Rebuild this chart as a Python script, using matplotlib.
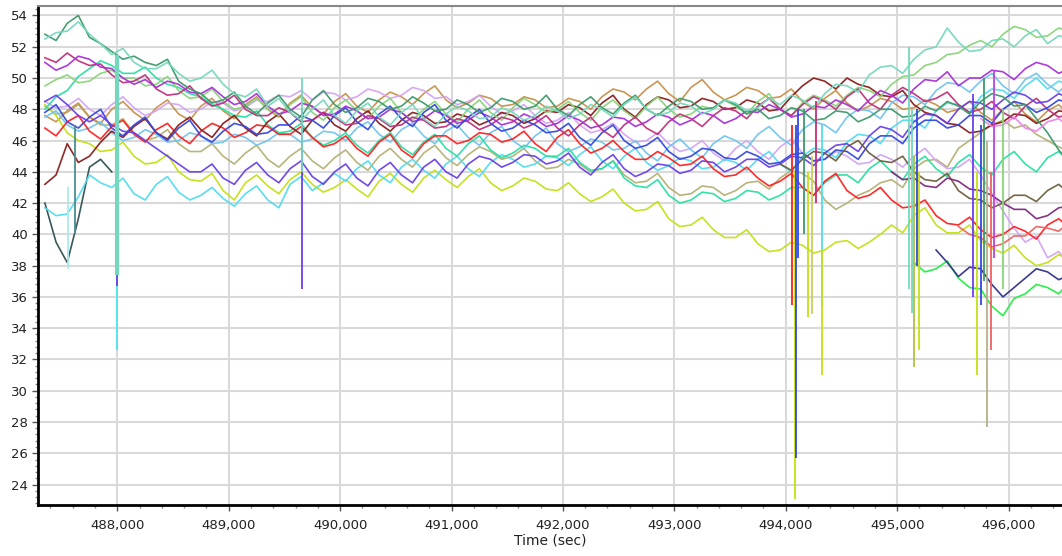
import numpy as np
import matplotlib
matplotlib.use('Agg')
import matplotlib.pyplot as plt
from matplotlib.ticker import MultipleLocator, FuncFormatter

# sample times (sec), one every 100 s
times = np.arange(487350, 496600, 100)

seagreen = [52.8, 52.4, 53.5, 54.0, 52.6, 52.2, 51.7, 51.2, 51.4, 51.0,
            50.8, 51.2, 49.8, 49.3, 49.0, 48.4, 48.6, 49.1, 48.2, 47.7,
            48.4, 48.9, 48.0, 47.5, 48.6, 49.2, 48.3, 47.8, 48.1, 48.7,
            48.5, 48.0, 48.2, 48.8, 48.4, 47.9, 48.0, 48.6, 48.3, 47.8,
            48.1, 48.7, 48.5, 48.0, 48.2, 48.9, 48.0, 47.6, 48.3, 48.8,
            48.1, 47.7, 48.4, 48.9, 48.0, 47.6, 48.2, 48.7, 48.5, 48.0,
            48.1, 48.6, 48.3, 47.7, 48.0, 47.4, 47.6, 48.1, 47.9, 47.3,
            47.4, 47.9, 47.8, 47.2, 47.5, 48.0, 48.0, 47.5, 47.6, 48.2,
            47.9, 48.5, 48.2, 47.7, 48.5, 49.0, 48.8, 48.2, 48.3, 47.4,
            46.5, 45.4, 44.6]
aquamarine = [52.5, 52.9, 53.0, 53.6, 52.8, 52.2, 51.5, 51.9, 51.0, 50.6,
              50.6, 51.0, 50.3, 49.8, 50.0, 50.5, 49.6, 49.0, 48.8, 49.3,
              48.2, 48.7, 47.8, 47.3, 48.0, 48.6, 47.6, 47.1, 47.9, 48.4,
              47.5, 47.0, 47.8, 48.3, 47.4, 46.9, 47.7, 48.2, 47.9, 47.4,
              47.5, 48.1, 47.8, 47.3, 47.6, 48.2, 47.9, 47.4, 47.7, 48.3,
              48.0, 47.5, 48.3, 48.8, 48.0, 47.6, 47.8, 48.4, 48.2, 47.7,
              48.0, 48.6, 48.4, 47.9, 48.1, 48.7, 48.3, 48.9, 48.6, 48.1,
              49.0, 49.6, 49.5, 49.1, 50.2, 50.7, 50.8, 50.3, 51.2, 51.8,
              52.0, 53.2, 52.3, 51.7, 51.8, 52.4, 52.5, 52.0, 52.7, 53.1,
              52.2, 52.7, 52.6]
lightgreen = [49.5, 49.9, 50.2, 49.7, 49.8, 50.3, 50.5, 50.0, 50.0, 49.5,
              49.6, 50.1, 49.2, 48.7, 48.8, 49.3, 48.5, 48.0, 48.2, 48.7,
              48.0, 47.6, 48.3, 48.8, 47.8, 47.3, 48.1, 48.6, 47.9, 47.4,
              48.2, 48.7, 47.8, 47.3, 48.0, 48.5, 47.7, 47.2, 48.0, 48.6,
              47.8, 47.3, 48.1, 48.7, 48.3, 47.8, 48.0, 48.5, 47.8, 47.3,
              48.1, 48.6, 47.9, 47.4, 48.2, 48.8, 48.0, 47.5, 47.7, 48.2,
              48.0, 48.6, 48.2, 47.7, 48.5, 49.0, 48.0, 47.6, 48.4, 48.9,
              48.6, 48.2, 48.9, 49.4, 49.2, 48.8, 49.6, 50.1, 50.2, 50.8,
              51.0, 51.5, 51.6, 52.1, 52.4, 52.0, 52.8, 53.3, 53.1, 52.6,
              52.7, 53.2, 53.0]
orchid = [51.0, 50.5, 50.8, 51.4, 51.2, 50.7, 50.6, 50.0, 49.6, 49.9,
          49.4, 49.8, 49.6, 49.1, 49.0, 49.4, 48.8, 48.3, 48.5, 49.0,
          48.2, 47.7, 47.9, 48.4, 48.2, 47.6, 47.7, 48.2, 47.9, 47.4,
          47.5, 48.0, 47.8, 47.2, 47.4, 47.9, 47.6, 47.1, 47.3, 47.8,
          47.5, 47.0, 47.2, 47.7, 47.4, 46.9, 47.1, 47.6, 47.3, 46.8,
          47.0, 47.5, 47.4, 46.9, 47.2, 47.7, 47.5, 47.0, 47.3, 47.8,
          47.6, 47.1, 47.4, 47.9, 47.8, 48.3, 48.0, 47.5, 47.7, 48.2,
          48.1, 48.6, 48.3, 47.9, 48.6, 49.2, 48.9, 48.4, 49.3, 49.9,
          49.8, 50.4, 49.5, 50.0, 50.0, 50.5, 50.4, 49.9, 50.6, 51.0,
          50.8, 50.3, 50.6]
violetred = [51.3, 51.0, 51.6, 51.1, 50.8, 50.9, 50.2, 49.7, 49.8, 50.2,
             49.3, 48.9, 49.0, 49.5, 48.7, 48.2, 48.4, 48.9, 48.0, 47.6,
             47.6, 48.1, 47.8, 47.2, 47.3, 47.8, 47.5, 47.0, 47.1, 47.6,
             47.4, 46.9, 47.0, 47.5, 47.3, 46.8, 46.9, 47.4, 47.2, 46.7,
             47.0, 47.5, 47.3, 46.8, 47.1, 47.6, 46.8, 46.3, 47.0, 47.5,
             46.7, 46.2, 47.0, 47.5, 46.8, 46.4, 47.2, 47.7, 47.4, 46.9,
             47.6, 48.1, 47.9, 47.4, 48.2, 48.7, 48.0, 47.6, 48.3, 48.8,
             48.5, 48.0, 48.8, 49.3, 48.4, 48.0, 48.9, 49.4, 49.0, 48.5,
             48.7, 49.1, 48.3, 47.8, 48.0, 48.5, 47.8, 47.4, 48.2, 48.7,
             48.0, 47.5, 47.7]
blueviolet = [48.5, 48.9, 48.3, 47.6, 47.2, 47.6, 47.0, 46.6, 46.5, 46.0,
              45.5, 45.0, 44.5, 44.0, 44.0, 44.5, 43.6, 43.2, 44.1, 44.6,
              43.8, 43.3, 44.2, 44.7, 43.7, 43.2, 44.0, 44.5, 43.6, 43.1,
              44.1, 44.6, 43.8, 43.3, 44.3, 44.8, 44.0, 43.6, 44.5, 45.0,
              44.8, 44.3, 44.6, 45.1, 45.0, 44.5, 44.7, 45.2, 44.3, 43.8,
              44.6, 45.1, 44.2, 43.7, 44.0, 44.5, 44.4, 43.9, 44.1, 44.7,
              44.6, 44.0, 44.3, 44.8, 44.8, 44.3, 44.5, 45.0, 44.9, 44.4,
              45.2, 45.7, 45.8, 45.3, 46.3, 46.9, 46.7, 46.2, 47.2, 47.7,
              47.6, 47.1, 48.0, 48.5, 48.4, 48.0, 48.6, 49.1, 48.9, 48.4,
              48.5, 49.0, 48.7]
royalblue = [47.8, 48.3, 47.2, 46.8, 47.5, 48.0, 46.8, 46.3, 47.0, 47.5,
             46.5, 46.0, 46.8, 47.3, 46.3, 45.9, 46.6, 47.1, 46.9, 46.4,
             46.5, 47.0, 47.0, 47.6, 47.3, 46.8, 47.6, 48.1, 47.2, 46.7,
             47.7, 48.2, 47.4, 46.9, 47.8, 48.3, 47.3, 46.8, 47.5, 48.0,
             47.1, 46.6, 46.8, 47.3, 47.0, 46.5, 46.6, 47.1, 46.2, 45.7,
             46.5, 47.0, 46.0, 45.5, 45.7, 46.2, 45.3, 44.8, 45.0, 45.5,
             45.4, 44.9, 44.8, 45.3, 45.0, 44.5, 44.6, 45.1, 45.2, 44.7,
             44.8, 45.4, 45.3, 44.8, 45.8, 46.3, 46.3, 45.8, 46.8, 47.3,
             47.3, 46.8, 47.0, 47.6, 47.6, 47.1, 48.0, 48.5, 48.3, 47.8,
             48.1, 48.6, 48.4]
red = [46.8, 46.3, 47.2, 47.6, 46.6, 46.1, 46.9, 47.3, 46.4, 45.9,
       46.7, 47.1, 46.3, 45.8, 46.6, 47.1, 46.8, 46.2, 46.5, 47.0,
       46.9, 46.4, 46.4, 46.9, 46.2, 45.6, 45.8, 46.3, 45.5, 45.0,
       45.9, 46.4, 45.4, 44.9, 45.8, 46.3, 46.3, 45.8, 46.0, 46.5,
       46.4, 45.9, 46.1, 46.6, 45.8, 45.3, 46.2, 46.7, 45.8, 45.2,
       45.5, 46.0, 45.3, 44.8, 44.8, 45.3, 44.9, 44.4, 44.5, 45.0,
       44.2, 43.7, 43.8, 44.3, 43.6, 43.1, 43.4, 43.9, 43.0, 42.5,
       43.4, 43.9, 42.8, 42.3, 42.5, 43.0, 42.2, 41.7, 41.8, 42.2,
       41.2, 40.7, 40.6, 41.1, 40.3, 39.8, 40.0, 40.5, 40.2, 39.7,
       40.6, 41.0, 40.4]
maroon = [43.2, 43.8, 45.8, 44.6, 45.0, 45.9, 46.6, 46.2, 46.9, 47.4,
          46.5, 46.1, 47.0, 47.5, 46.7, 46.2, 47.1, 47.6, 46.8, 46.3,
          47.2, 47.7, 46.9, 46.4, 47.3, 47.8, 47.0, 46.6, 47.4, 47.9,
          47.1, 46.6, 47.3, 47.8, 47.6, 47.1, 47.2, 47.7, 47.5, 47.0,
          47.3, 47.8, 47.6, 47.1, 47.4, 47.9, 47.8, 48.3, 48.1, 47.6,
          48.4, 48.9, 48.0, 47.5, 48.3, 48.8, 48.6, 48.1, 48.2, 48.7,
          48.5, 48.0, 48.1, 48.6, 48.4, 47.9, 48.0, 48.8, 49.5, 50.0,
          49.8, 49.3, 50.0, 49.6, 49.4, 48.9, 48.8, 49.2, 48.3, 47.8,
          47.6, 47.1, 47.0, 46.5, 46.6, 47.0, 47.2, 47.7, 47.6, 47.1,
          47.4, 47.9, 47.8]
slate = [42.0, 39.5, 38.2, 41.0, 44.3, 44.8, 44.0]
yellowgreen = [48.3, 47.6, 46.5, 46.0, 45.8, 45.3, 45.4, 45.9, 45.0, 44.5,
               44.6, 45.1, 44.0, 43.5, 43.4, 43.9, 42.8, 42.2, 43.3, 43.8,
               43.1, 42.6, 43.5, 44.0, 43.2, 42.7, 43.0, 43.5, 42.9, 42.4,
               43.4, 43.9, 43.2, 42.7, 43.6, 44.1, 43.5, 43.0, 43.7, 44.2,
               43.3, 42.8, 43.1, 43.6, 43.4, 42.9, 42.8, 43.3, 42.6, 42.1,
               42.4, 42.9, 42.0, 41.5, 41.6, 42.1, 41.0, 40.5, 40.6, 41.1,
               40.3, 39.8, 39.8, 40.3, 39.4, 38.9, 39.0, 39.5, 39.3, 38.8,
               39.0, 39.5, 39.6, 39.1, 39.5, 40.0, 40.6, 40.1, 41.2, 41.7,
               40.6, 40.1, 40.1, 40.6, 39.6, 39.1, 38.8, 39.3, 38.5, 38.0,
               38.2, 38.7, 38.4]
cyan = [41.7, 41.2, 41.3, 42.4, 43.8, 43.3, 43.0, 43.6, 42.6, 42.2,
        43.2, 43.7, 42.7, 42.2, 42.5, 43.0, 42.3, 41.8, 42.6, 43.1,
        42.2, 41.7, 43.2, 43.7, 42.8, 43.3, 43.9, 43.4, 44.2, 44.7,
        43.8, 43.3, 44.3, 44.8, 44.1, 43.6, 44.5, 45.0, 44.2, 43.7,
        44.6, 45.1, 44.8, 44.3, 44.5, 45.0, 44.9, 44.4, 45.1, 45.6,
        44.7, 44.2, 45.0, 45.5, 44.6, 44.1, 44.4, 44.9, 44.7, 44.2,
        44.3, 44.8, 44.6, 44.1, 44.8, 45.3, 44.5, 44.0, 45.0, 45.5,
        45.4, 44.9, 45.9, 46.4, 46.3, 45.8, 46.8, 47.3, 47.3, 46.8,
        47.9, 48.4, 48.3, 47.8, 48.8, 49.3, 49.2, 48.7, 49.5, 50.0,
        49.3, 49.8, 49.6]
skyblue = [47.5, 47.9, 47.0, 46.6, 46.8, 47.2, 46.5, 46.0, 46.2, 46.7,
           46.4, 45.9, 46.0, 46.5, 46.3, 45.8, 45.9, 46.4, 46.2, 45.7,
           46.0, 46.5, 46.4, 45.9, 46.1, 46.6, 46.5, 46.0, 46.8, 47.2,
           46.4, 45.9, 46.7, 47.1, 46.3, 45.8, 46.6, 47.0, 46.2, 45.7,
           46.5, 46.9, 46.0, 45.5, 46.3, 46.8, 45.8, 45.3, 45.6, 46.1,
           45.9, 45.4, 45.5, 46.0, 45.2, 44.7, 45.6, 46.1, 45.4, 44.9,
           45.8, 46.3, 46.0, 45.5, 46.4, 46.9, 46.2, 45.7, 46.7, 47.2,
           47.0, 46.5, 47.5, 48.0, 47.9, 47.4, 48.4, 48.9, 48.8, 48.3,
           49.2, 49.7, 49.6, 49.1, 49.8, 50.3, 49.5, 49.0, 49.9, 50.3,
           49.6, 49.1, 49.8]
springgreen = [48.0, 48.8, 49.2, 50.1, 50.6, 51.1, 50.8, 50.3, 50.3, 50.7,
               50.0, 49.6, 49.4, 49.0, 48.8, 48.3, 48.0, 47.6, 47.5, 47.9,
               47.0, 46.5, 46.6, 47.1, 46.2, 45.7, 46.0, 46.5, 45.7, 45.2,
               46.0, 46.5, 45.6, 45.1, 45.9, 46.4, 45.5, 45.0, 45.8, 46.3,
               45.4, 44.9, 45.2, 45.7, 45.5, 45.0, 45.0, 45.5, 44.6, 44.1,
               44.2, 44.7, 43.6, 43.1, 43.0, 43.5, 42.5, 42.0, 42.2, 42.7,
               42.6, 42.1, 42.3, 42.8, 42.7, 42.2, 42.5, 43.0, 43.0, 42.5,
               43.3, 43.8, 43.8, 43.3, 44.2, 44.7, 44.0, 43.5, 44.5, 45.0,
               44.2, 43.7, 44.6, 45.1, 44.3, 43.8, 44.8, 45.3, 44.5, 44.0,
               44.9, 45.3, 44.6]
khaki = [48.2, 47.7, 47.8, 48.3, 47.5, 47.0, 47.0, 47.4, 46.5, 46.0,
         46.2, 46.7, 45.8, 45.3, 45.3, 45.8, 45.0, 44.5, 45.2, 45.7,
         44.8, 44.3, 45.0, 45.5, 44.7, 44.2, 44.9, 45.4, 44.6, 44.1,
         45.0, 45.5, 44.8, 44.3, 45.2, 45.7, 44.9, 44.4, 45.1, 45.6,
         45.3, 44.8, 45.0, 45.5, 44.7, 44.2, 44.3, 44.8, 44.5, 44.0,
         44.2, 44.7, 43.8, 43.3, 43.4, 43.9, 43.0, 42.5, 42.6, 43.1,
         43.0, 42.5, 42.8, 43.3, 43.4, 42.9, 43.6, 44.1, 43.9, 43.4,
         42.2, 41.6, 42.0, 42.5, 42.8, 43.3, 43.5, 43.0, 44.2, 44.7,
         44.8, 44.3, 45.5, 46.0, 46.5, 47.0, 47.3, 46.8, 47.0, 46.4,
         46.0, 45.6, 45.3]
peru = [47.6, 47.2, 47.9, 48.4, 47.5, 47.1, 48.0, 48.5, 47.8, 47.3,
        48.1, 48.6, 47.7, 47.3, 48.2, 48.7, 47.9, 47.4, 48.3, 48.8,
        48.0, 47.5, 48.4, 48.9, 48.1, 47.7, 48.5, 49.0, 48.2, 47.8,
        48.6, 49.1, 48.8, 48.3, 49.0, 49.5, 48.6, 48.1, 48.4, 48.9,
        48.7, 48.2, 48.3, 48.8, 48.6, 48.1, 48.2, 48.7, 48.5, 48.0,
        48.8, 49.3, 49.1, 48.6, 49.3, 49.8, 49.0, 48.5, 49.4, 49.9,
        49.1, 48.6, 48.9, 49.4, 49.2, 48.7, 48.8, 49.3, 48.5, 48.0,
        48.7, 49.2, 48.4, 47.9, 48.2, 48.7, 48.5, 48.0, 48.1, 48.6,
        48.3, 47.8, 48.0, 48.5, 47.8, 47.3, 48.0, 48.5, 47.7, 47.2,
        47.9, 48.3, 47.6]
plum = [48.5, 48.1, 48.2, 48.7, 48.0, 47.6, 48.3, 48.8, 48.1, 47.6,
        47.9, 48.4, 48.3, 47.8, 48.0, 48.5, 48.4, 47.9, 48.1, 48.6,
        48.5, 48.9, 48.8, 49.2, 48.6, 49.1, 49.0, 48.6, 48.8, 49.3,
        49.1, 48.7, 48.9, 49.4, 49.2, 48.7, 48.8, 48.3, 48.5, 48.9,
        48.2, 47.7, 47.9, 48.3, 47.6, 47.1, 47.3, 47.8, 47.0, 46.5,
        46.7, 47.1, 46.4, 45.9, 46.0, 46.5, 45.8, 45.3, 45.5, 46.0,
        45.2, 44.7, 45.5, 46.0, 45.3, 44.8, 45.6, 46.1, 45.2, 44.7,
        44.8, 45.3, 45.0, 44.5, 44.6, 45.1, 44.8, 44.3, 45.0, 45.5,
        44.7, 44.2, 44.3, 44.8, 43.8, 42.6, 41.5, 40.4, 39.5, 39.9,
        38.5, 38.9, 38.0]
# traces that only appear for part of the run (first sample index given separately)
olive = [44.5, 44.1, 44.8, 45.3, 45.2, 44.7, 45.6, 46.0, 45.2, 44.7,
         44.6, 45.0, 44.0, 43.5, 43.4, 43.9, 42.8, 42.3, 42.2, 41.7,
         42.0, 42.5, 42.5, 42.1, 42.8, 43.2, 42.6]
green = [38.2, 37.6, 37.8, 38.3, 37.2, 36.6, 36.5, 35.4, 34.8, 35.9, 36.2, 36.8, 36.6, 36.2, 37.0]
navy = [39.0, 38.2, 37.3, 37.9, 37.8, 36.8, 36.0, 36.6, 37.2, 37.8, 37.6, 37.1, 37.4]
purple = [44.0, 43.5, 43.6, 43.1, 43.0, 43.6, 43.4, 42.9, 42.8, 42.5, 42.0, 41.6, 41.6, 41.0, 41.2, 41.7, 41.8]
salmon = [40.5, 40.0, 39.8, 39.2, 39.4, 39.9, 39.9, 40.5, 40.4, 40.2, 40.8]
violet = [47.4, 46.9, 47.0, 47.5, 46.8, 46.6, 47.2, 47.4, 46.9]

series = [
    (khaki, 0, '#b4b074'), (peru, 0, '#c8904a'), (plum, 0, '#d4a4f4'), (slate, 0, '#2f5050'),
    (yellowgreen, 0, '#c4e014'), (cyan, 0, '#50dcf0'), (skyblue, 0, '#70c4f0'),
    (springgreen, 0, '#28e0a4'), (red, 0, '#ff2020'), (maroon, 0, '#8b1c1c'),
    (lightgreen, 0, '#88d478'), (violetred, 0, '#c0307a'), (orchid, 0, '#a830d8'),
    (royalblue, 0, '#3448e0'), (blueviolet, 0, '#6a40e8'), (seagreen, 0, '#3c9a6c'),
    (aquamarine, 0, '#74d8bc'), (olive, 66, '#6e5e3e'), (green, 78, '#20f040'),
    (navy, 80, '#30308c'), (purple, 76, '#802880'), (salmon, 82, '#f06060'),
    (violet, 84, '#ee82ee'),
]

# sharp dropouts: time, lowest value, starting value, colour
spike_t = [487560, 487620, 488000, 488000, 488000, 489660, 489660, 494060, 494080, 494090, 494200,
           494240, 494330, 494330, 495130, 495150, 495200, 495720, 495750, 495810, 495840,
           494110, 494160, 494270, 495110, 495180, 495680, 495780, 495870, 495950]
spike_lo = [37.8, 40.0, 32.6, 36.7, 37.4, 36.5, 44.0, 35.5, 23.1, 25.7, 34.7, 34.9, 35.4, 31.0, 35.0,
            31.5, 32.6, 31.0, 35.5, 27.7, 32.6,
            38.5, 40.0, 42.0, 36.5, 38.0, 36.0, 37.0, 38.5, 36.5]
spike_hi = [43.0, 47.0, 43.0, 47.0, 51.5, 48.0, 50.0, 47.0, 44.0, 47.0, 44.0, 45.0, 47.0, 39.0, 48.0,
            45.0, 44.0, 44.0, 47.0, 46.0, 44.0,
            48.0, 48.0, 48.5, 52.0, 48.0, 49.0, 50.0, 50.5, 48.0]
spike_c = ['#a8ecec', '#4a8e8e', '#50e4f0', '#6a40e8', '#74d8bc', '#6a40e8', '#74d8bc', '#ff2020',
           '#c4e014', '#3448e0', '#c4e014', '#c8d060', '#50dcf0', '#c4e014', '#74d8bc', '#b4c040',
           '#c4e014', '#c4e014', '#3448e0', '#b8b088', '#f06060',
           '#3448e0', '#3c9a6c', '#c0307a', '#74d8bc', '#3448e0', '#6a40e8', '#3c9a6c',
           '#c040e0', '#88d478']

fig = plt.figure(figsize=(10.62, 5.56), dpi=100)
ax = fig.add_axes([0.036, 0.092, 0.964, 0.897])

for vals, start, col in series:
    ax.plot(times[start:start + len(vals)], vals, color=col, linewidth=1.2, alpha=0.95)

for t, lo, hi, col in zip(spike_t, spike_lo, spike_hi, spike_c):
    w = 3 if (t == 488000 and col == '#74d8bc') else 1.3
    ax.vlines(t, lo, hi, color=col, linewidth=w)

ax.set_xlim(487290, 496480)
ax.set_ylim(22.7, 54.6)
ax.xaxis.set_major_locator(MultipleLocator(1000))
ax.xaxis.set_minor_locator(MultipleLocator(200))
ax.yaxis.set_major_locator(MultipleLocator(2))
ax.yaxis.set_minor_locator(MultipleLocator(0.4))
ax.xaxis.set_major_formatter(FuncFormatter(lambda v, p: f'{v:,.0f}'))
ax.grid(True, which='major', color='#d9d9d9', linewidth=1.5)
ax.set_axisbelow(True)

ax.tick_params(which='major', length=4, width=1, color='#555555', labelsize=9.5, labelcolor='#222222')
ax.tick_params(which='minor', length=2, width=1, color='#888888')
ax.tick_params(axis='x', pad=6)
for s in ['left', 'bottom']:
    ax.spines[s].set_linewidth(2)
    ax.spines[s].set_color('black')
ax.spines['top'].set_color('#888888')
ax.spines['top'].set_linewidth(1.5)
ax.spines['right'].set_visible(False)

ax.set_xlabel('Time (sec)', fontsize=10, color='#222222', labelpad=1)

fig.savefig('out.png', dpi=100)
